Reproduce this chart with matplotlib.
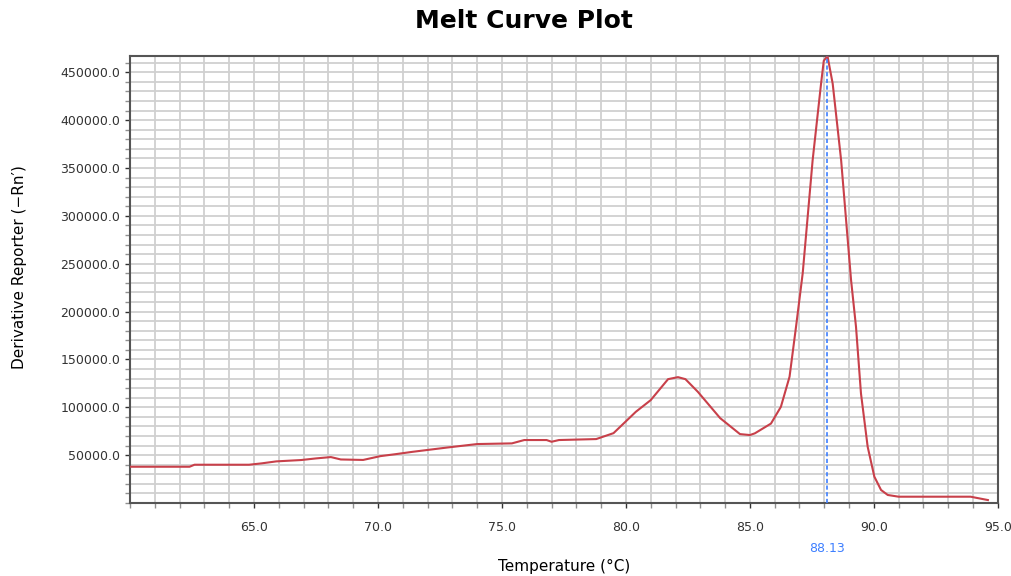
import matplotlib.pyplot as plt
from matplotlib.ticker import MultipleLocator, FormatStrFormatter

# melt curve (temperature in C, -dRn/dT)
temps = [60.0, 62.4, 62.6, 64.8, 65.3, 65.9, 66.9, 67.5, 68.1, 68.5, 69.4, 70.1,
         70.7, 71.4, 72.8, 74.0, 75.4, 75.9, 76.8, 77.0, 77.3, 78.8, 79.5, 80.4,
         81.0, 81.7, 82.1, 82.4, 82.9, 83.8, 84.6, 85.0, 85.2, 85.85, 86.25, 86.6,
         86.86, 87.13, 87.53, 87.87, 87.98, 88.13, 88.34, 88.68, 89.08, 89.28,
         89.48, 89.75, 90.02, 90.29, 90.56, 91.0, 93.9, 94.6]
deriv = [37900, 37900, 40000, 40000, 41400, 43500, 44900, 46600, 48000, 45500,
         45000, 49000, 51000, 53500, 58000, 61600, 62300, 65800, 65800, 64000,
         65800, 66800, 73000, 95300, 107500, 129400, 131500, 129400, 116200,
         88700, 72000, 71000, 72800, 83000, 100500, 132000, 184000, 240000,
         358000, 438000, 462000, 467000, 438000, 358000, 233000, 184000, 114500,
         58800, 27500, 13600, 8400, 6600, 6600, 3100]
tm = 88.13
x_ticks = [65.0, 70.0, 75.0, 80.0, 85.0, 90.0, 95.0]

fig = plt.figure(figsize=(10.12, 5.76), dpi=100)
ax = fig.add_axes([0.1285, 0.1267, 0.8575, 0.7761])

ax.plot(temps, deriv, color="#c8404a", lw=1.5, zorder=3)
ax.axvline(tm, color="#3d7fff", lw=1.2, ls=(0, (2.5, 1.5)), zorder=4)

ax.set_xlim(60.0, 95.0)
ax.set_ylim(0, 467000)
ax.set_xticks(x_ticks)
ax.xaxis.set_major_formatter(FormatStrFormatter("%.1f"))
ax.xaxis.set_minor_locator(MultipleLocator(1.0))
ax.set_yticks(range(50000, 450001, 50000))
ax.yaxis.set_major_formatter(FormatStrFormatter("%.1f"))
ax.yaxis.set_minor_locator(MultipleLocator(10000))

ax.grid(True, which="both", color="#d0d0d0", lw=1.3, zorder=0)
ax.set_axisbelow(True)
ax.tick_params(which="both", direction="out", color="#909090", length=3.5, width=1)
ax.tick_params(labelsize=9, colors="#333333", which="major")
ax.tick_params(axis="x", which="major", pad=9.5)
for s in ax.spines.values():
    s.set_color("#555555")
    s.set_linewidth(1.5)

ax.text(tm, -0.101, f"{tm:.2f}", transform=ax.get_xaxis_transform(),
        color="#3d7fff", fontsize=9, ha="center", va="center")

fig.text(524 / 1012, 1 - 21 / 576, "Melt Curve Plot", fontsize=18,
         fontweight="bold", ha="center", va="center")
ax.set_xlabel("Temperature (°C)", fontsize=11)
ax.xaxis.set_label_coords(0.5, -0.125)
ax.set_ylabel("Derivative Reporter (\u2212Rn\u2032)", fontsize=11)
ax.yaxis.set_label_coords(-0.119, 0.527)

fig.savefig("out.png", dpi=100)
plt.close()
